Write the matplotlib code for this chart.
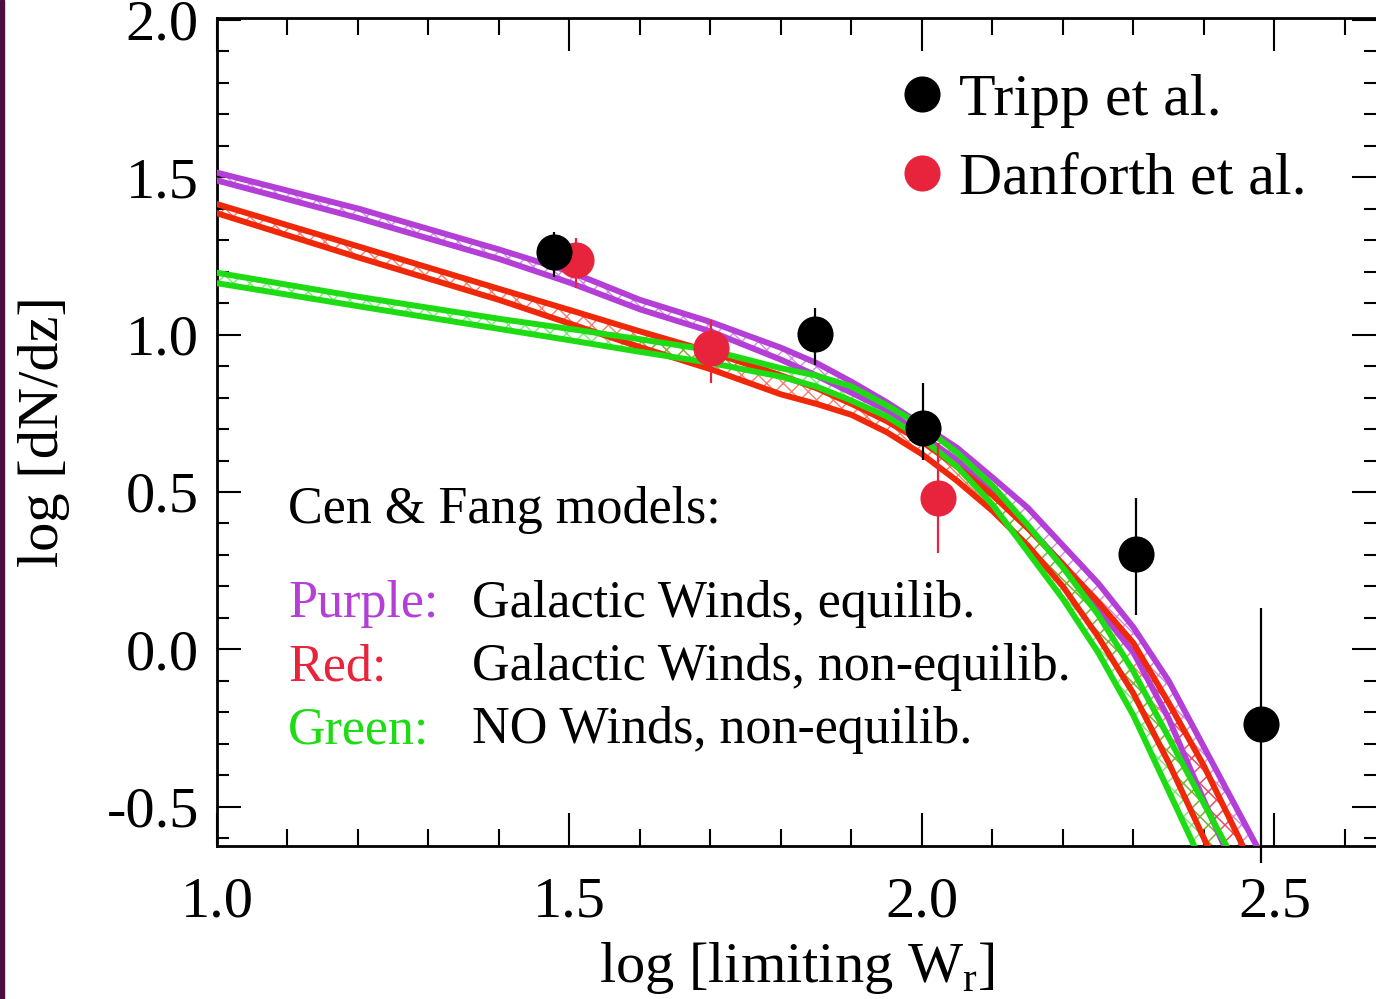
import matplotlib
matplotlib.use('Agg')
import matplotlib.pyplot as plt
import numpy as np
from matplotlib.lines import Line2D
from matplotlib.patches import Rectangle
from matplotlib.ticker import MultipleLocator, FormatStrFormatter

plt.rcParams['font.family'] = ['Liberation Serif', 'DejaVu Serif']
plt.rcParams['mathtext.fontset'] = 'custom'
plt.rcParams['mathtext.rm'] = 'Liberation Serif'
plt.rcParams['axes.unicode_minus'] = False
plt.rcParams['hatch.linewidth'] = 1.0

# dados observados
tripp_x = [1.478, 1.848, 2.002, 2.303, 2.481]
tripp_y = [1.262, 1.002, 0.703, 0.303, -0.237]
tripp_err_lo = [0.079, 0.099, 0.102, 0.193, 0.440]
tripp_err_hi = [0.064, 0.083, 0.143, 0.177, 0.368]

danf_x = [1.509, 1.701, 2.023]
danf_y = [1.237, 0.956, 0.480]
danf_err_lo = [0.090, 0.111, 0.175]
danf_err_hi = [0.069, 0.090, 0.174]

# modelos (bordas superior e inferior de cada faixa)
model_x = [1.0, 1.2, 1.4, 1.5, 1.6, 1.7, 1.8, 1.85, 1.9, 1.95, 2.0, 2.05, 2.1,
           2.15, 2.2, 2.25, 2.3, 2.35, 2.4, 2.45, 2.5]
purple_hi = [1.514, 1.40, 1.27, 1.20, 1.11, 1.04, 0.958, 0.91, 0.85, 0.785, 0.713, 0.64, 0.546,
             0.45, 0.33, 0.21, 0.07, -0.10, -0.31, -0.52, -0.73]
purple_lo = [1.489, 1.37, 1.24, 1.165, 1.08, 1.01, 0.92, 0.87, 0.815, 0.76, 0.68, 0.60, 0.50,
             0.39, 0.27, 0.13, -0.01, -0.22, -0.48, -0.73, -0.98]
red_hi = [1.414, 1.28, 1.145, 1.078, 1.01, 0.945, 0.87, 0.83, 0.78, 0.725, 0.66, 0.58, 0.49,
          0.385, 0.27, 0.15, 0.02, -0.17, -0.37, -0.60, -0.85]
red_lo = [1.385, 1.245, 1.11, 1.035, 0.96, 0.89, 0.81, 0.78, 0.745, 0.69, 0.62, 0.535, 0.44,
          0.33, 0.20, 0.04, -0.14, -0.36, -0.60, -0.85, -1.10]
green_hi = [1.196, 1.12, 1.05, 1.018, 0.985, 0.95, 0.893, 0.87, 0.835, 0.775, 0.71, 0.625, 0.52,
            0.395, 0.26, 0.11, -0.07, -0.28, -0.49, -0.70, -0.91]
green_lo = [1.163, 1.09, 1.018, 0.982, 0.945, 0.91, 0.866, 0.835, 0.79, 0.74, 0.67, 0.58, 0.46,
            0.31, 0.16, -0.01, -0.21, -0.45, -0.69, -0.93, -1.17]

model_labels = ['Purple:', 'Red:', 'Green:']
model_desc = ['Galactic Winds, equilib.', 'Galactic Winds, non-equilib.', 'NO Winds, non-equilib.']

purple = '#b43fd6'
red = '#f0280a'
green = '#1edc14'
red_pt = '#e8243c'

fig = plt.figure(figsize=(13.76, 9.99), dpi=100)
fig.patches.append(Rectangle((0, 0), 4 / 1376, 1, transform=fig.transFigure, color='#4b0f3f', zorder=0))
ax = fig.add_axes([217 / 1376, 153 / 999, 1159 / 1376, 828 / 999])

bands = [(purple_hi, purple_lo, purple), (red_hi, red_lo, red), (green_hi, green_lo, green)]
for hi, lo, c in bands:
    ax.fill_between(model_x, lo, hi, facecolor='none', edgecolor=c, linewidth=0, hatch='xx', alpha=0.6, zorder=2)
    ax.plot(model_x, hi, color=c, lw=4.3, zorder=3)
    ax.plot(model_x, lo, color=c, lw=4.3, zorder=3)

eb = ax.errorbar(danf_x, danf_y, yerr=[danf_err_lo, danf_err_hi], fmt='o', color=red_pt,
                 ms=26, mew=0, elinewidth=1.6, capsize=0, zorder=5)
for lc in eb[2]:
    lc.set_clip_on(False)
eb = ax.errorbar(tripp_x, tripp_y, yerr=[tripp_err_lo, tripp_err_hi], fmt='o', color='k',
                 ms=26, mew=0, elinewidth=1.6, capsize=0, zorder=6)
for lc in eb[2]:
    lc.set_clip_on(False)

ax.set_xlim(1.0, 2.644)
ax.set_ylim(-0.624, 2.005)
ax.xaxis.set_major_locator(MultipleLocator(0.5))
ax.xaxis.set_minor_locator(MultipleLocator(0.1))
ax.yaxis.set_major_locator(MultipleLocator(0.5))
ax.yaxis.set_minor_locator(MultipleLocator(0.1))
ax.xaxis.set_major_formatter(FormatStrFormatter('%.1f'))
ax.yaxis.set_major_formatter(FormatStrFormatter('%.1f'))

ax.tick_params(axis='x', which='major', direction='in', length=24, width=1.5,
               top=True, bottom=True, labelsize=42, pad=22)
ax.tick_params(axis='x', which='minor', direction='in', length=12, width=1.5, top=True, bottom=True)
ax.tick_params(axis='y', which='major', direction='in', length=17, width=1.5,
               left=True, right=True, labelsize=42, pad=13)
ax.tick_params(axis='y', which='minor', direction='in', length=8.5, width=1.5, left=True, right=True)
for s in ['left', 'bottom', 'top']:
    ax.spines[s].set_linewidth(2)
ax.spines['right'].set_visible(False)

ax.set_xlabel('log [limiting W$_{\\mathregular{r}}$]', fontsize=42)
ax.set_ylabel('log [dN/dz]', fontsize=42)
ax.xaxis.set_label_coords(0.5, -0.113)
ax.yaxis.set_label_coords(-0.127, 0.5)

handles = [Line2D([], [], ls='none', marker='o', color='k', ms=26, mew=0),
           Line2D([], [], ls='none', marker='o', color=red_pt, ms=26, mew=0)]
ax.legend(handles, ['Tripp et al.', 'Danforth et al.'], loc='upper left',
          bbox_to_anchor=(0.588, 0.933), frameon=False, fontsize=43, borderpad=0,
          borderaxespad=0, handlelength=0.8, handletextpad=0.22, labelspacing=0.40)

ax.text(1.1007, 0.401, 'Cen & Fang models:', fontsize=37.5, va='baseline')
for lab, desc, c, yb in zip(model_labels, model_desc, [purple, red_pt, green], [0.103, -0.098, -0.298]):
    ax.text(1.1007, yb, lab, fontsize=37.5, va='baseline', color=c)
    ax.text(1.3617, yb, desc, fontsize=37.5, va='baseline')

fig.savefig('out.png', dpi=100)
